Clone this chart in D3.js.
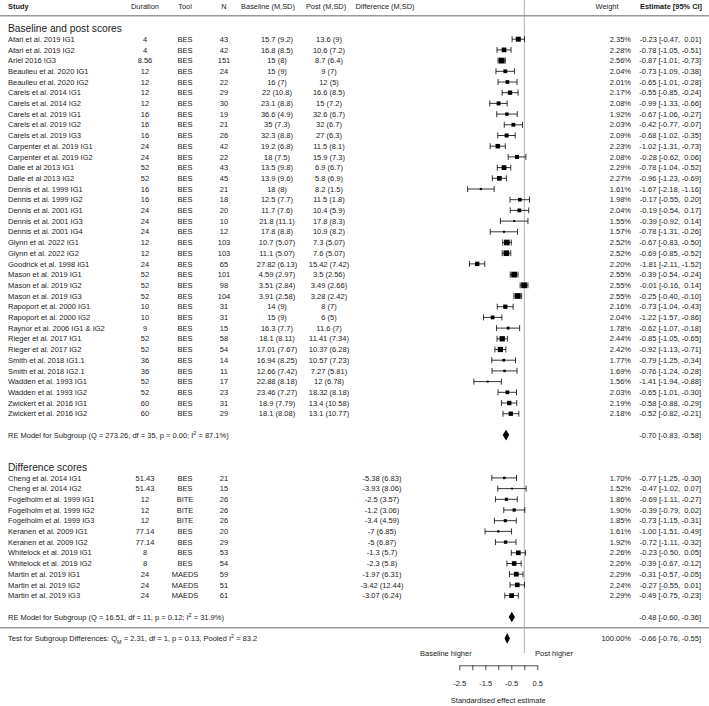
<!DOCTYPE html>
<html>
<head>
<meta charset="utf-8">
<script src="https://cdn.jsdelivr.net/npm/d3@7"></script>
<style>
    body { margin: 0; background: #fff; }
    svg text { font-family: "Liberation Sans", Arial, sans-serif; fill: #1a1a1a; }
</style>
</head>
<body>
<svg id="Forest"></svg>
<script>
'use strict';

// group 1: baseline and post scores
let studies1 = ["Afari et al. 2019 IG1", "Afari et al. 2019 IG2", "Ariel 2016 IG3", "Beaulieu et al. 2020 IG1", "Beaulieu et al. 2020 IG2",
    "Carels et al. 2014 IG1", "Carels et al. 2014 IG2", "Carels et al. 2019 IG1", "Carels et al. 2019 IG2", "Carels et al. 2019 IG3",
    "Carpenter et al. 2019 IG1", "Carpenter et al. 2019 IG2", "Dalle et al 2013 IG1", "Dalle et al 2013 IG2", "Dennis et al. 1999 IG1",
    "Dennis et al. 1999 IG2", "Dennis et al. 2001 IG1", "Dennis et al. 2001 IG3", "Dennis et al. 2001 IG4", "Glynn et al. 2022 IG1",
    "Glynn et al. 2022 IG2", "Goodrick et al. 1998 IG1", "Mason et al. 2019 IG1", "Mason et al. 2019 IG2", "Mason et al. 2019 IG3",
    "Rapoport et al. 2000 IG1", "Rapoport et al. 2000 IG2", "Raynor et al. 2006 IG1 & IG2", "Rieger et al. 2017 IG1", "Rieger et al. 2017 IG2",
    "Smith et al. 2018 IG1.1", "Smith et al. 2018 IG2.1", "Wadden et al. 1993 IG1", "Wadden et al. 1993 IG2", "Zwickert et al. 2016 IG1",
    "Zwickert et al. 2016 IG2"];
let duration1 = [4, 4, 8.56, 12, 12, 12, 12, 16, 16, 16, 24, 24, 52, 52, 16, 16, 24, 24, 24, 12, 12, 24, 52, 52, 52, 10, 10, 9, 52, 52, 36, 36, 52, 52, 60, 60];
let tool1 = ["BES", "BES", "BES", "BES", "BES", "BES", "BES", "BES", "BES", "BES", "BES", "BES", "BES", "BES", "BES", "BES", "BES", "BES",
    "BES", "BES", "BES", "BES", "BES", "BES", "BES", "BES", "BES", "BES", "BES", "BES", "BES", "BES", "BES", "BES", "BES", "BES"];
let n1 = [43, 42, 151, 24, 22, 29, 30, 19, 21, 26, 42, 22, 43, 45, 21, 18, 20, 10, 12, 103, 103, 65, 101, 98, 104, 31, 31, 15, 58, 54, 14, 11, 17, 23, 31, 29];
let baseline1 = ["15.7 (9.2)", "16.8 (8.5)", "15 (8)", "15 (9)", "16 (7)", "22 (10.8)", "23.1 (8.8)", "36.6 (4.9)", "35 (7.3)", "32.3 (8.8)",
    "19.2 (6.8)", "18 (7.5)", "13.5 (9.8)", "13.9 (9.6)", "18 (8)", "12.5 (7.7)", "11.7 (7.6)", "21.8 (11.1)", "17.8 (8.8)", "10.7 (5.07)",
    "11.1 (5.07)", "27.82 (6.13)", "4.59 (2.97)", "3.51 (2.84)", "3.91 (2.58)", "14 (9)", "15 (9)", "16.3 (7.7)", "18.1 (8.11)", "17.01 (7.67)",
    "16.94 (8.25)", "12.66 (7.42)", "22.88 (8.18)", "23.46 (7.27)", "18.9 (7.79)", "18.1 (8.08)"];
let post1 = ["13.6 (9)", "10.6 (7.2)", "8.7 (6.4)", "9 (7)", "12 (5)", "16.6 (8.5)", "15 (7.2)", "32.6 (6.7)", "32 (6.7)", "27 (6.3)",
    "11.5 (8.1)", "15.9 (7.3)", "6.9 (6.7)", "5.8 (6.9)", "8.2 (1.5)", "11.5 (1.8)", "10.4 (5.9)", "17.8 (8.3)", "10.9 (8.2)", "7.3 (5.07)",
    "7.6 (5.07)", "15.42 (7.42)", "3.5 (2.56)", "3.49 (2.66)", "3.28 (2.42)", "8 (7)", "6 (5)", "11.6 (7)", "11.41 (7.34)", "10.37 (6.28)",
    "10.57 (7.23)", "7.27 (5.81)", "12 (6.78)", "18.32 (8.18)", "13.4 (10.58)", "13.1 (10.77)"];
let weight1 = [2.35, 2.28, 2.56, 2.04, 2.01, 2.17, 2.08, 1.92, 2.03, 2.09, 2.23, 2.08, 2.29, 2.27, 1.61, 1.98, 2.04, 1.55, 1.57, 2.52,
    2.52, 2.20, 2.55, 2.55, 2.55, 2.16, 2.04, 1.78, 2.44, 2.42, 1.77, 1.69, 1.56, 2.03, 2.19, 2.18];
let est1 = [-0.23, -0.78, -0.87, -0.73, -0.65, -0.55, -0.99, -0.67, -0.42, -0.68, -1.02, -0.28, -0.78, -0.96, -1.67, -0.17, -0.19, -0.39,
    -0.78, -0.67, -0.69, -1.81, -0.39, -0.01, -0.25, -0.73, -1.22, -0.62, -0.85, -0.92, -0.79, -0.76, -1.41, -0.65, -0.58, -0.52];
let lo1 = [-0.47, -1.05, -1.01, -1.09, -1.01, -0.85, -1.33, -1.06, -0.77, -1.02, -1.31, -0.62, -1.04, -1.23, -2.18, -0.55, -0.54, -0.92,
    -1.31, -0.83, -0.85, -2.11, -0.54, -0.16, -0.40, -1.04, -1.57, -1.07, -1.05, -1.13, -1.25, -1.24, -1.94, -1.01, -0.88, -0.82];
let hi1 = [0.01, -0.51, -0.73, -0.38, -0.28, -0.24, -0.66, -0.27, -0.07, -0.35, -0.73, 0.06, -0.52, -0.69, -1.16, 0.20, 0.17, 0.14,
    -0.26, -0.50, -0.52, -1.52, -0.24, 0.14, -0.10, -0.43, -0.86, -0.18, -0.65, -0.71, -0.34, -0.28, -0.88, -0.30, -0.29, -0.21];

// group 2: difference scores
let studies2 = ["Cheng et al. 2014 IG1", "Cheng et al. 2014 IG2", "Fogelholm et al. 1999 IG1", "Fogelholm et al. 1999 IG2",
    "Fogelholm et al. 1999 IG3", "Keranen et al. 2009 IG1", "Keranen et al. 2009 IG2", "Whitelock et al. 2019 IG1",
    "Whitelock et al. 2019 IG2", "Martin et al. 2019 IG1", "Martin et al. 2019 IG2", "Martin et al. 2019 IG3"];
let duration2 = [51.43, 51.43, 12, 12, 12, 77.14, 77.14, 8, 8, 24, 24, 24];
let tool2 = ["BES", "BES", "BITE", "BITE", "BITE", "BES", "BES", "BES", "BES", "MAEDS", "MAEDS", "MAEDS"];
let n2 = [21, 15, 26, 26, 26, 20, 29, 53, 54, 59, 51, 61];
let diff2 = ["-5.38 (6.83)", "-3.93 (8.06)", "-2.5 (3.57)", "-1.2 (3.06)", "-3.4 (4.59)", "-7 (6.85)", "-5 (6.87)", "-1.3 (5.7)",
    "-2.3 (5.8)", "-1.97 (6.31)", "-3.42 (12.44)", "-3.07 (6.24)"];
let weight2 = [1.70, 1.52, 1.86, 1.90, 1.85, 1.61, 1.92, 2.26, 2.26, 2.29, 2.24, 2.29];
let est2 = [-0.77, -0.47, -0.69, -0.39, -0.73, -1.00, -0.72, -0.23, -0.39, -0.31, -0.27, -0.49];
let lo2 = [-1.25, -1.02, -1.11, -0.79, -1.15, -1.51, -1.11, -0.50, -0.67, -0.57, -0.55, -0.75];
let hi2 = [-0.30, 0.07, -0.27, 0.02, -0.31, -0.49, -0.32, 0.05, -0.12, -0.05, 0.01, -0.23];

// pooled estimates: subgroup 1, subgroup 2, overall
let pooledEst = [-0.70, -0.48, -0.66];
let pooledLo = [-0.83, -0.60, -0.76];
let pooledHi = [-0.58, -0.36, -0.55];

let axisTicks = [-2.5, -2, -1.5, -1, -0.5, 0, 0.5];
let axisLabels = ["-2.5", "", "-1.5", "", "-0.5", "", "0.5"];

function getChartConfig() {
    let width = 709, height = 706;
    let container = d3.select("#Forest")
        .attr("width", width)
        .attr("height", height);
    let cols = { study: 8, duration: 145, tool: 185, n: 224, base: 277, post: 329, diff: 382, weight: 631, estimate: 701 };
    return { width, height, container, cols };
}

function getScales() {
    let xScale = d3.scaleLinear().domain([-2.5, 0.5]).range([459.3, 537.3]);
    // row 0 = first study, rows counted downwards
    let yScale = d3.scaleLinear().domain([0, 56]).range([39.2, 638.4]);
    let sizeScale = d3.scaleLinear()
        .domain(d3.extent(weight1.concat(weight2)))
        .range([1.8, 5.8]);
    return { xScale, yScale, sizeScale };
}

function fmtCI(e, l, h) {
    let pad = v => (v >= 0 ? " " : "") + v.toFixed(2);
    return pad(e) + " [" + pad(l) + ", " + pad(h) + "]";
}

function addText(container, x, y, txt, anchor, size) {
    return container.append("text")
        .attr("x", x)
        .attr("y", y)
        .attr("dy", "0.35em")
        .attr("text-anchor", anchor)
        .style("font-size", size + "px")
        .style("white-space", "pre")
        .text(txt);
}

function drawLines(config, scales) {
    let { container, width } = config;
    let { xScale, yScale } = scales;

    container.append("line")
        .attr("x1", xScale(0)).attr("x2", xScale(0))
        .attr("y1", 0).attr("y2", 653)
        .style("stroke", "#b0b0b0")
        .style("stroke-width", 1);

    [yScale(-2.2), yScale(55)].forEach(y => {
        container.append("line")
            .attr("x1", 0).attr("x2", width)
            .attr("y1", y).attr("y2", y)
            .style("stroke", "#999")
            .style("stroke-width", 1.5);
    })
}

function drawHeader(config, scales) {
    let { container, cols } = config;
    let y = 6.5;
    addText(container, cols.study, y, "Study", "start", 7.4).style("font-weight", "bold");
    addText(container, cols.duration, y, "Duration", "middle", 7.4);
    addText(container, cols.tool, y, "Tool", "middle", 7.4);
    addText(container, cols.n, y, "N", "middle", 7.4);
    addText(container, 268, y, "Baseline (M,SD)", "middle", 7.4);
    addText(container, 326, y, "Post (M,SD)", "middle", 7.4);
    addText(container, 385, y, "Difference (M,SD)", "middle", 7.4);
    addText(container, 607, y, "Weight", "middle", 7.4);
    addText(container, 702, y, "Estimate [95% CI]", "end", 7.4).style("font-weight", "bold");

    let { yScale } = scales;
    addText(container, cols.study, yScale(-1), "Baseline and post scores", "start", 10.2);
    addText(container, cols.study, yScale(40), "Difference scores", "start", 10.2);
}

function drawRows(config, scales, rows, offset, fs) {
    let { container, cols } = config;
    let { xScale, yScale, sizeScale } = scales;

    let g = container.append("g");

    rows.forEach((d, i) => {
        let y = yScale(offset + i);
        addText(g, cols.study, y, d.study, "start", fs);
        addText(g, cols.duration, y, String(d.duration), "middle", fs);
        addText(g, cols.tool, y, d.tool, "middle", fs);
        addText(g, cols.n, y, String(d.n), "middle", fs);
        if (d.base) addText(g, cols.base, y, d.base, "middle", fs);
        if (d.post) addText(g, cols.post, y, d.post, "middle", fs);
        if (d.diff) addText(g, cols.diff, y, d.diff, "middle", fs);
        addText(g, cols.weight, y, d.weight.toFixed(2) + "%", "end", fs);
        addText(g, cols.estimate, y, fmtCI(d.est, d.lo, d.hi), "end", fs);
    })

    let marks = g.selectAll(".ci")
        .data(rows)
        .enter()
        .append("g")
        .attr("class", "ci")
        .attr("transform", (d, i) => "translate(0," + yScale(offset + i) + ")");

    marks.append("line")
        .attr("x1", d => xScale(d.lo))
        .attr("x2", d => xScale(d.hi))
        .style("stroke", "#000")
        .style("stroke-width", 0.8);

    ["lo", "hi"].forEach(k => {
        marks.append("line")
            .attr("x1", d => xScale(d[k]))
            .attr("x2", d => xScale(d[k]))
            .attr("y1", -3).attr("y2", 3)
            .style("stroke", "#000")
            .style("stroke-width", 0.8);
    })

    marks.append("rect")
        .attr("x", d => xScale(d.est) - sizeScale(d.weight) / 2)
        .attr("y", d => -sizeScale(d.weight) / 2)
        .attr("width", d => sizeScale(d.weight))
        .attr("height", d => sizeScale(d.weight))
        .style("fill", "#000");
}

function drawPooled(config, scales, fs) {
    let { container, cols } = config;
    let { xScale, yScale } = scales;
    let pooledRows = [37, 54, 56];

    let diamonds = pooledEst.map((e, i) => ({ est: e, lo: pooledLo[i], hi: pooledHi[i], row: pooledRows[i] }));

    container.selectAll(".diamond")
        .data(diamonds)
        .enter()
        .append("polygon")
        .attr("class", "diamond")
        .attr("points", d => {
            let y = yScale(d.row);
            return [[xScale(d.lo), y], [xScale(d.est), y - 5.3], [xScale(d.hi), y], [xScale(d.est), y + 5.3]]
                .map(p => p.join(",")).join(" ");
        })
        .style("fill", "#000");

    diamonds.forEach(d => {
        addText(container, cols.estimate, yScale(d.row), fmtCI(d.est, d.lo, d.hi), "end", fs);
    })
    addText(container, cols.weight, yScale(56), "100.00%", "end", fs);

    let small = (fs * 0.72) + "px";

    let re1 = addText(container, cols.study, yScale(37), "", "start", fs);
    re1.append("tspan").text("RE Model for Subgroup (Q = 273.26, df = 35, p = 0.00; I");
    re1.append("tspan").attr("baseline-shift", "super").style("font-size", small).text("2");
    re1.append("tspan").text(" = 87.1%)");

    let re2 = addText(container, cols.study, yScale(54), "", "start", fs);
    re2.append("tspan").text("RE Model for Subgroup (Q = 16.51, df = 11, p = 0.12; I");
    re2.append("tspan").attr("baseline-shift", "super").style("font-size", small).text("2");
    re2.append("tspan").text(" = 31.9%)");

    let test = addText(container, cols.study, yScale(56), "", "start", fs);
    test.append("tspan").text("Test for Subgroup Differences: Q");
    test.append("tspan").attr("baseline-shift", "sub").style("font-size", small).text("M");
    test.append("tspan").text(" = 2.31, df = 1, p = 0.13, Pooled I");
    test.append("tspan").attr("baseline-shift", "super").style("font-size", small).text("2");
    test.append("tspan").text(" = 83.2");
}

function drawAxis(config, scales, fs) {
    let { container } = config;
    let { xScale } = scales;

    let xAxis = d3.axisBottom(xScale)
        .tickValues(axisTicks)
        .tickFormat((d, i) => axisLabels[i])
        .tickSizeInner(5)
        .tickSizeOuter(0)
        .tickPadding(10);

    let ax = container.append("g")
        .attr("transform", "translate(0,665.3)")
        .call(xAxis);
    ax.selectAll("path, line").style("stroke", "#222").style("stroke-width", 0.8);
    ax.selectAll("text")
        .attr("font-family", null)
        .style("font-size", fs + "px")
        .style("fill", "#1a1a1a");

    addText(container, 471.7, 653.4, "Baseline higher", "end", fs);
    addText(container, 535, 653.4, "Post higher", "start", fs);
    addText(container, xScale(-1), 700.5, "Standardised effect estimate", "middle", fs);
}

function drawChart() {
    let config = getChartConfig();
    let scales = getScales();
    let fs = 7.5;

    let rows1 = studies1.map((s, i) => ({
        study: s, duration: duration1[i], tool: tool1[i], n: n1[i], base: baseline1[i], post: post1[i],
        weight: weight1[i], est: est1[i], lo: lo1[i], hi: hi1[i]
    }));
    let rows2 = studies2.map((s, i) => ({
        study: s, duration: duration2[i], tool: tool2[i], n: n2[i], diff: diff2[i],
        weight: weight2[i], est: est2[i], lo: lo2[i], hi: hi2[i]
    }));

    drawLines(config, scales);
    drawHeader(config, scales);
    drawRows(config, scales, rows1, 0, fs);
    drawRows(config, scales, rows2, 41, fs);
    drawPooled(config, scales, fs);
    drawAxis(config, scales, fs);
}

drawChart();
</script>
</body>
</html>
